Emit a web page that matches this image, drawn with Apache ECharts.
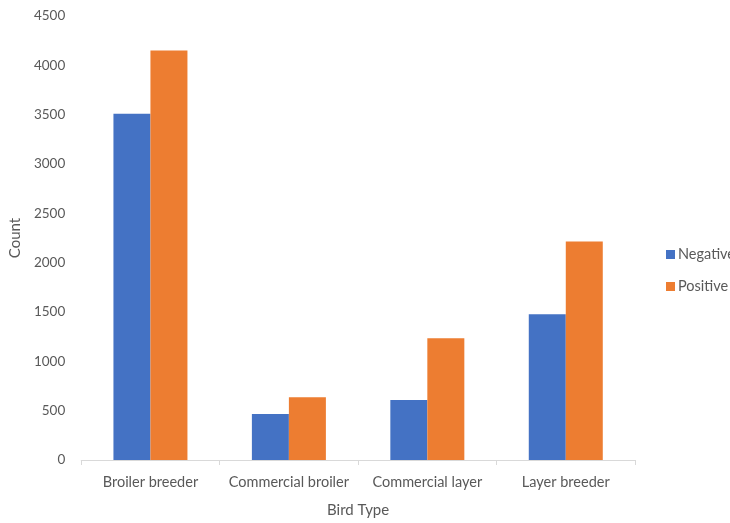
<!DOCTYPE html>
<html>
<head>
<meta charset="utf-8">
<script src="https://cdn.jsdelivr.net/npm/echarts@6/dist/echarts.min.js"></script>
<style>
  html, body { margin: 0; padding: 0; background: #fff; }
  #chart { width: 730px; height: 523px; }
</style>
</head>
<body>
<div id="chart"></div>
<script>
// Bird types along the x axis
const categories = ['Broiler breeder', 'Commercial broiler', 'Commercial layer', 'Layer breeder'];
// Counts per test result
const negativeCounts = [3510, 465, 607, 1476];
const positiveCounts = [4150, 637, 1234, 2214];
// Y axis range
const yMin = 0;
const yMax = 4500;
const yStep = 500;

const font = 'Lato, "Open Sans", sans-serif';
const textColor = '#595959';

const chart = echarts.init(document.getElementById('chart'));
chart.setOption({
  animation: false,
  textStyle: { fontFamily: font },
  grid: { left: 79, right: 95, top: 16, bottom: 60, containLabel: false },
  legend: {
    orient: 'vertical',
    left: 661,
    top: 242,
    itemWidth: 9,
    itemHeight: 9,
    itemGap: 17,
    icon: 'rect',
    textStyle: { fontFamily: font, fontSize: 14.5, color: textColor, padding: [0, 0, 0, -2] },
    data: ['Negative', 'Positive']
  },
  xAxis: {
    type: 'category',
    data: categories,
    name: 'Bird Type',
    nameLocation: 'middle',
    nameGap: 43,
    nameTextStyle: { fontFamily: font, fontSize: 15, color: textColor },
    axisLine: { lineStyle: { color: '#d9d9d9', width: 1 } },
    axisTick: { show: true, interval: 0, alignWithLabel: false, length: 5, lineStyle: { color: '#d9d9d9' } },
    axisLabel: { interval: 0, fontFamily: font, fontSize: 14.5, color: textColor, margin: 15 }
  },
  yAxis: {
    type: 'value',
    min: yMin,
    max: yMax,
    interval: yStep,
    name: 'Count',
    nameLocation: 'middle',
    nameGap: 58,
    nameTextStyle: { fontFamily: font, fontSize: 15, color: textColor },
    axisLine: { show: false },
    axisTick: { show: false },
    splitLine: { show: false },
    axisLabel: {
      fontFamily: font, fontSize: 13.5, color: textColor, margin: 16,
      formatter: (v) => String(v)
    }
  },
  series: [
    {
      name: 'Negative',
      type: 'bar',
      data: negativeCounts,
      barWidth: 37,
      barGap: '0%',
      itemStyle: { color: '#4472C4' }
    },
    {
      name: 'Positive',
      type: 'bar',
      data: positiveCounts,
      barWidth: 37,
      barGap: '0%',
      itemStyle: { color: '#ED7D31' }
    }
  ]
});
</script>
</body>
</html>
